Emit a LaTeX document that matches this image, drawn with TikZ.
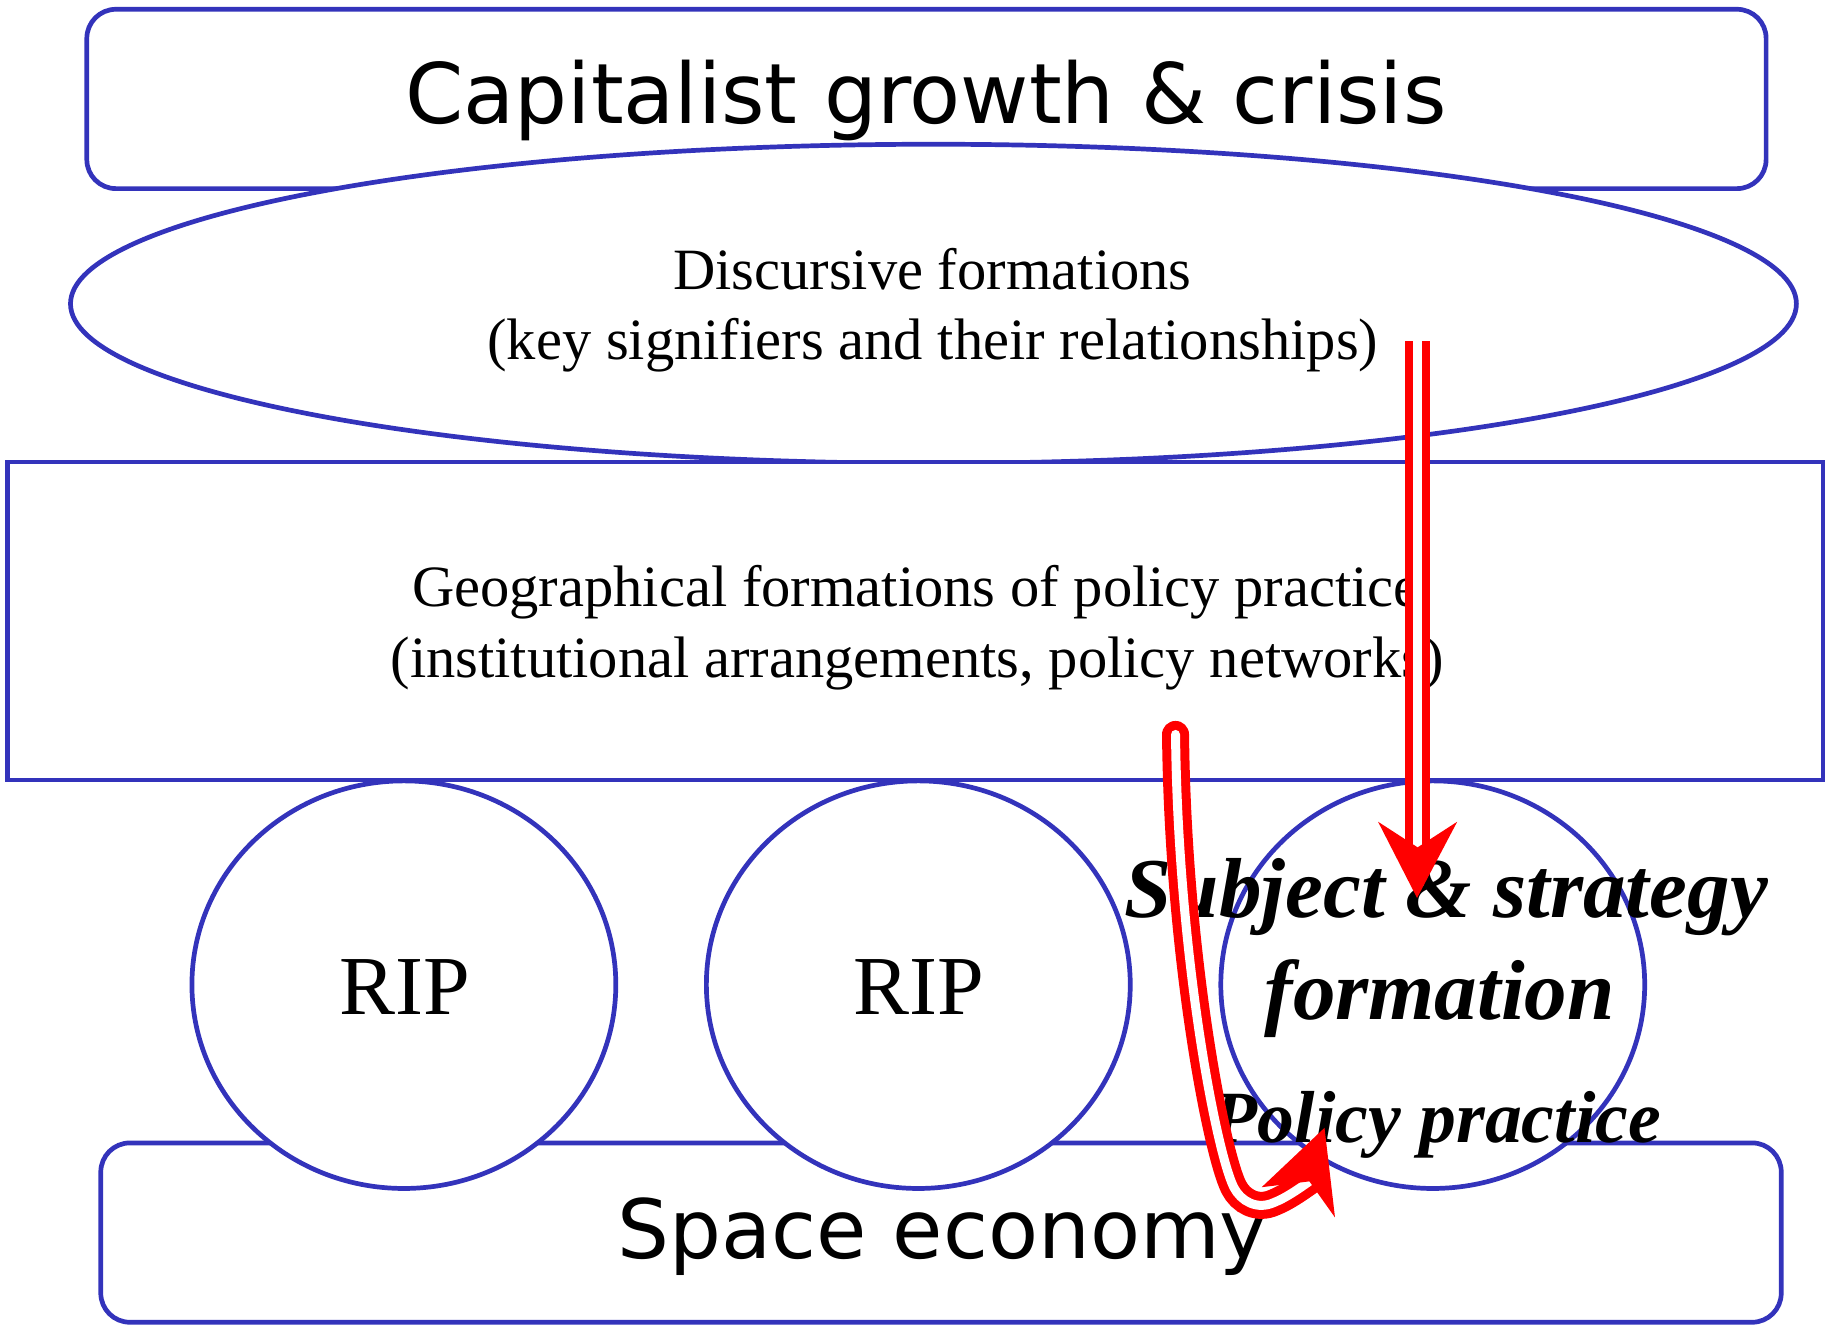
\documentclass[tikz,border=0pt]{standalone}
\usepackage{fontspec}
\setmainfont{Liberation Serif}
\newfontfamily\dejavu{DejaVu Sans}
\usetikzlibrary{shapes.geometric}
\definecolor{bluel}{RGB}{51,51,187}
\definecolor{redl}{RGB}{255,0,0}
\begin{document}
\begin{tikzpicture}[x=0.01cm,y=-0.01cm,
  shapeline/.style={draw=bluel, line width=1.15pt, fill=white},
  rbox/.style={shapeline, rectangle, rounded corners=0.25cm, inner sep=0pt, outer sep=0pt},
  sbox/.style={shapeline, rectangle, inner sep=0pt, outer sep=0pt},
  oval/.style={shapeline, ellipse, inner sep=0pt, outer sep=0pt},
  ripoval/.style={oval, minimum width=3.64cm, minimum height=3.50cm},
  redarrow/.style={draw=redl, line width=2pt, double=white, double distance=2.2pt},
  sanslabel/.style={font=\dejavu\fontsize{20.4}{24}\selectfont, anchor=base, inner sep=0pt},
  seriflabel/.style={font=\fontsize{14.3}{17}\selectfont, anchor=base, inner sep=0pt},
  riplabel/.style={font=\fontsize{20.5}{24}\selectfont, anchor=base, inner sep=0pt},
  bilabel/.style={font=\bfseries\itshape\fontsize{20.8}{24}\selectfont, anchor=base, inner sep=0pt},
  bismall/.style={font=\bfseries\itshape\fontsize{18}{22}\selectfont, anchor=base, inner sep=0pt},
]
\useasboundingbox (0,0) rectangle (1568,1138);
% shapes
\node[rbox, minimum width=14.42cm, minimum height=1.54cm] (cap) at (796,85) {};
\node[oval, minimum width=14.82cm, minimum height=2.74cm] (disc) at (802,261) {};
\node[sbox, minimum width=15.59cm, minimum height=2.73cm] (geo) at (786.5,533.5) {};
\node[rbox, minimum width=14.43cm, minimum height=1.54cm] (space) at (808.5,1059) {};
\node[ripoval] (rip1) at (347,846) {};
\node[ripoval] (rip2) at (789,846) {};
\node[ripoval] (subj) at (1231,846) {};
% texts
\node[sanslabel] (capt) at (795.5,106) {Capitalist growth \& crisis};
\node[seriflabel] (disc1) at (801,249) {Discursive formations};
\node[seriflabel] (disc2) at (801.5,309) {(key signifiers and their relationships)};
\node[seriflabel] (geo1) at (787,521.5) {Geographical formations of policy practice};
\node[seriflabel] (geo2) at (788,582) {(institutional arrangements, policy networks)};
\node[riplabel] (rip1t) at (348,872) {RIP};
\node[riplabel] (rip2t) at (789.5,872) {RIP};
\node[bilabel] (subj1) at (1242.5,788) {Subject \& strategy};
\node[bilabel] (subj2) at (1237,876) {formation};
\node[bismall] (pol) at (1234.5,982) {Policy practice};
\node[sanslabel, font=\dejavu\fontsize{20}{24}\selectfont] (spacet) at (810,1081) {Space economy};
% red arrow 1
\coordinate (a1s) at (1218,293);
\coordinate (a1n) at (1218,728);
\coordinate (a1t) at (1217.5,771.5);
\draw[redarrow] (a1s) -- (a1n);
\fill[redl] (a1t) -- (1184,706) -- (a1n) -- (1252,706) -- cycle;
% red arrow 2
\coordinate (a2s) at (1010,631);
\coordinate (a2n) at (1125,1015);
\coordinate (a2t) at (1138,969);
\draw[redarrow, line width=2.2pt, line cap=round] (a2s) .. controls (1012,820) and (1045,990) .. (1060,1020)
  .. controls (1066,1032) and (1080,1040) .. (1095,1033)
  .. controls (1105,1029) and (1115,1022) .. (a2n);
\fill[redl] (a2t) -- (1084,1020) -- (a2n) -- (1147,1046) -- cycle;
\end{tikzpicture}
\end{document}
